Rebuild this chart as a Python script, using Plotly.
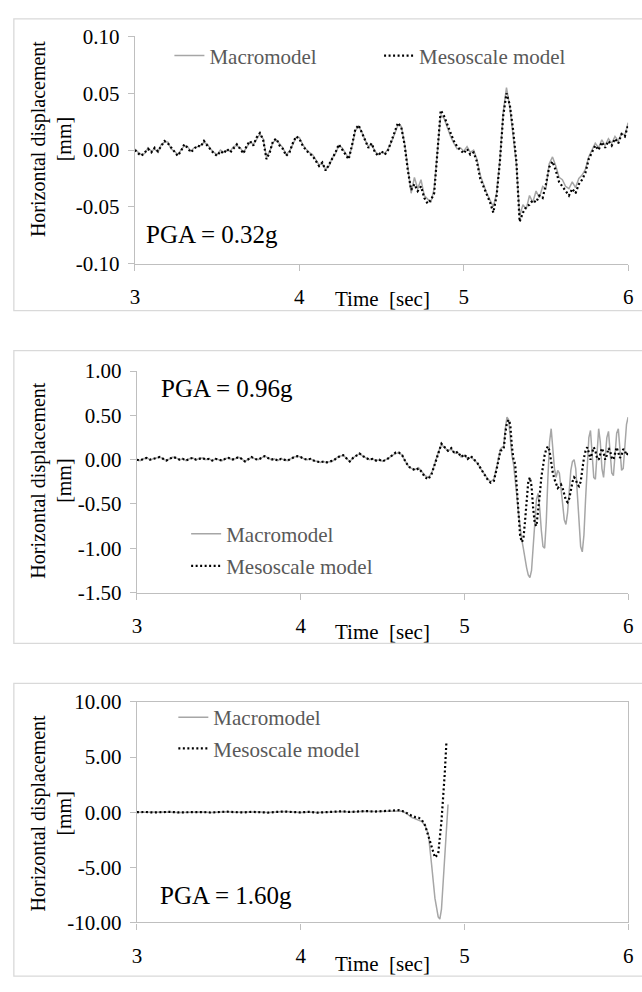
import plotly.graph_objects as go

# ---------------- data ----------------
T_START, T_STEP, N1 = 3.0, 0.02, 151
time_1 = [round(T_START + T_STEP * i, 2) for i in range(N1)]
# panel 2: 0.02 s sampling up to 5.18 s, then 0.01 s sampling
time_2 = [round(3.0 + 0.02 * i, 2) for i in range(110)] + [round(5.2 + 0.01 * i, 2) for i in range(81)]

macro_1 = [0.001, -0.002, -0.004, -0.003, 0.002, -0.001, 0.001, -0.002, 0.005, 0.007,
           0.007, 0.001, -0.001, -0.004, 0.000, 0.004, 0.003, -0.001, 0.002, 0.003,
           0.004, 0.007, 0.005, 0.001, -0.002, -0.004, 0.000, -0.002, 0.000, -0.001,
           0.003, 0.004, 0.002, -0.002, 0.003, 0.007, 0.005, 0.010, 0.014, 0.010,
           -0.006, -0.001, 0.007, 0.009, 0.005, 0.002, -0.004, -0.001, 0.005, 0.011,
           0.011, 0.005, 0.001, -0.002, -0.004, -0.009, -0.013, -0.012, -0.017, -0.014,
           -0.007, -0.003, 0.004, 0.002, -0.003, -0.007, 0.003, 0.017, 0.021, 0.016,
           0.009, 0.003, 0.005, -0.001, -0.004, -0.002, -0.003, 0.001, 0.007, 0.015,
           0.022, 0.021, 0.006, -0.015, -0.038, -0.024, -0.034, -0.026, -0.040, -0.043,
           -0.046, -0.034, 0.002, 0.031, 0.028, 0.020, 0.012, 0.006, 0.001, 0.002,
           -0.001, 0.003, -0.002, 0.000, -0.008, -0.022, -0.030, -0.038, -0.044, -0.050,
           -0.038, -0.008, 0.033, 0.055, 0.038, 0.015, -0.012, -0.058, -0.048, -0.052,
           -0.040, -0.046, -0.036, -0.042, -0.032, -0.034, -0.012, -0.006, -0.014, -0.024,
           -0.026, -0.032, -0.034, -0.028, -0.033, -0.025, -0.022, -0.017, -0.006, 0.000,
           0.006, 0.002, 0.009, 0.004, 0.010, 0.006, 0.012, 0.008, 0.015, 0.013, 0.024]

meso_1 = [0.000, -0.003, -0.005, -0.002, 0.001, -0.002, 0.002, -0.001, 0.004, 0.008,
          0.006, 0.002, -0.002, -0.005, -0.001, 0.005, 0.002, -0.002, 0.001, 0.004,
          0.003, 0.008, 0.004, 0.000, -0.003, -0.005, -0.001, -0.003, 0.001, -0.002,
          0.002, 0.005, 0.001, -0.003, 0.004, 0.008, 0.004, 0.011, 0.015, 0.009,
          -0.008, -0.002, 0.008, 0.010, 0.004, 0.001, -0.005, -0.002, 0.006, 0.012,
          0.010, 0.004, 0.000, -0.003, -0.005, -0.010, -0.014, -0.011, -0.018, -0.013,
          -0.008, -0.002, 0.005, 0.001, -0.004, -0.008, 0.004, 0.018, 0.022, 0.015,
          0.008, 0.002, 0.006, -0.002, -0.005, -0.001, -0.004, 0.000, 0.008, 0.016,
          0.024, 0.020, 0.005, -0.018, -0.035, -0.030, -0.036, -0.032, -0.042, -0.047,
          -0.044, -0.038, 0.000, 0.035, 0.030, 0.022, 0.015, 0.008, 0.003, 0.000,
          -0.003, 0.001, -0.004, -0.002, -0.010, -0.025, -0.032, -0.040, -0.046, -0.055,
          -0.040, -0.010, 0.030, 0.050, 0.040, 0.018, -0.010, -0.063, -0.055, -0.050,
          -0.048, -0.044, -0.046, -0.040, -0.042, -0.030, -0.015, -0.010, -0.018, -0.028,
          -0.032, -0.036, -0.040, -0.034, -0.038, -0.030, -0.026, -0.020, -0.008, -0.002,
          0.004, 0.000, 0.007, 0.002, 0.008, 0.004, 0.010, 0.006, 0.014, 0.012, 0.022]

macro_2 = [0.00, -0.01, 0.01, 0.02, 0.00, 0.01, 0.02, 0.03, 0.01, -0.01,
           0.01, 0.03, 0.02, 0.00, 0.01, -0.01, 0.01, 0.02, 0.00, 0.01,
           0.02, 0.00, 0.01, -0.01, 0.01, 0.00, -0.01, 0.01, 0.02, 0.00,
           0.01, 0.03, 0.01, -0.02, 0.01, 0.03, 0.01, 0.00, 0.02, 0.04,
           0.02, 0.00, 0.01, -0.01, 0.01, 0.00, -0.01, 0.01, 0.03, 0.04,
           0.03, 0.01, 0.00, 0.01, -0.01, -0.02, -0.03, -0.02, -0.03, -0.02,
           -0.01, 0.02, 0.04, 0.05, 0.01, -0.02, 0.02, 0.05, 0.07, 0.04,
           0.02, 0.00, 0.01, -0.01, 0.00, -0.02, 0.00, 0.02, 0.05, 0.07,
           0.08, 0.05, -0.02, -0.08, -0.10, -0.11, -0.09, -0.13, -0.18, -0.20,
           -0.15, -0.04, 0.08, 0.17, 0.13, 0.10, 0.12, 0.07, 0.08, 0.03,
           0.05, 0.01, 0.03, 0.00, -0.04, -0.10, -0.16, -0.21, -0.25, -0.22,
           # 5.20 .. 6.00 every 0.01 s
           -0.06, 0.04, 0.12, 0.14, 0.15, 0.35, 0.48, 0.45, 0.25, 0.05,
           -0.05, -0.20, -0.40, -0.60, -0.78, -0.90, -1.00, -1.12, -1.22, -1.30,
           -1.33, -1.25, -1.00, -0.70, -0.45, -0.38, -0.55, -0.80, -0.98, -1.00,
           -0.70, -0.20, 0.20, 0.35, 0.15, -0.10, -0.20, -0.12, -0.15, -0.30,
           -0.50, -0.68, -0.73, -0.60, -0.35, -0.12, -0.02, 0.00, -0.10, -0.40,
           -0.75, -0.98, -1.04, -0.85, -0.45, -0.05, 0.25, 0.33, 0.10, -0.20,
           -0.22, 0.10, 0.35, 0.20, -0.10, -0.20, 0.00, 0.25, 0.32, 0.10,
           -0.15, -0.18, 0.05, 0.30, 0.35, 0.12, -0.12, -0.10, 0.15, 0.40,
           0.48]

meso_2 = [0.00, -0.01, 0.01, 0.02, 0.00, 0.01, 0.02, 0.03, 0.01, -0.01,
          0.01, 0.03, 0.02, 0.00, 0.01, -0.01, 0.01, 0.02, 0.00, 0.01,
          0.02, 0.00, 0.01, -0.01, 0.01, 0.00, -0.01, 0.01, 0.02, 0.00,
          0.01, 0.03, 0.01, -0.02, 0.01, 0.03, 0.01, 0.00, 0.02, 0.04,
          0.02, 0.00, 0.01, -0.01, 0.01, 0.00, -0.01, 0.01, 0.03, 0.04,
          0.03, 0.01, 0.00, 0.01, -0.01, -0.02, -0.03, -0.02, -0.03, -0.02,
          -0.01, 0.02, 0.04, 0.05, 0.01, -0.02, 0.02, 0.05, 0.07, 0.04,
          0.02, 0.00, 0.01, -0.01, 0.00, -0.02, 0.00, 0.02, 0.05, 0.08,
          0.08, 0.05, -0.02, -0.08, -0.10, -0.12, -0.10, -0.14, -0.20, -0.22,
          -0.16, -0.05, 0.08, 0.18, 0.14, 0.10, 0.13, 0.07, 0.09, 0.03,
          0.06, 0.01, 0.04, 0.00, -0.04, -0.10, -0.16, -0.22, -0.26, -0.24,
          # 5.20 .. 6.00 every 0.01 s
          -0.08, 0.02, 0.10, 0.11, 0.12, 0.30, 0.42, 0.45, 0.40, 0.15,
          0.00, -0.05, -0.35, -0.65, -0.85, -0.93, -0.90, -0.70, -0.45, -0.25,
          -0.20, -0.30, -0.55, -0.72, -0.75, -0.60, -0.40, -0.20, -0.05, 0.05,
          0.12, 0.15, 0.10, -0.05, -0.15, -0.22, -0.28, -0.32, -0.30, -0.28,
          -0.32, -0.40, -0.46, -0.48, -0.44, -0.35, -0.25, -0.20, -0.22, -0.28,
          -0.30, -0.25, -0.10, 0.02, 0.10, 0.14, 0.08, 0.00, 0.08, 0.14,
          0.10, 0.02, 0.00, 0.08, 0.13, 0.08, 0.00, 0.05, 0.13, 0.10,
          0.02, 0.00, 0.08, 0.14, 0.08, 0.02, 0.05, 0.12, 0.10, 0.05,
          0.08]

time_3_macro = [3.00, 3.05, 3.10, 3.15, 3.20, 3.25, 3.30, 3.35, 3.40, 3.45,
                3.50, 3.55, 3.60, 3.65, 3.70, 3.75, 3.80, 3.85, 3.90, 3.95,
                4.00, 4.05, 4.10, 4.15, 4.20, 4.25, 4.30, 4.35, 4.40, 4.45,
                4.50, 4.55, 4.60, 4.62, 4.64, 4.66, 4.68, 4.70, 4.72, 4.74,
                4.76, 4.78, 4.80, 4.82, 4.84, 4.85, 4.86, 4.88, 4.89, 4.90]
macro_3 = [0.00, 0.01, -0.02, 0.01, 0.02, -0.02, 0.00, 0.03, 0.01, -0.02,
           0.02, 0.04, 0.00, -0.02, 0.02, 0.01, -0.03, 0.02, 0.05, 0.01,
           -0.02, 0.02, -0.04, 0.00, 0.03, 0.07, 0.02, 0.05, 0.09, 0.05,
           0.07, 0.10, 0.15, 0.10, -0.05, -0.30, -0.50, -0.60, -0.70, -0.85,
           -1.20, -2.00, -4.80, -7.80, -9.50, -9.70, -8.80, -4.00, -0.70, 0.70]

time_3_meso = [3.00, 3.05, 3.10, 3.15, 3.20, 3.25, 3.30, 3.35, 3.40, 3.45,
               3.50, 3.55, 3.60, 3.65, 3.70, 3.75, 3.80, 3.85, 3.90, 3.95,
               4.00, 4.05, 4.10, 4.15, 4.20, 4.25, 4.30, 4.35, 4.40, 4.45,
               4.50, 4.55, 4.60, 4.62, 4.64, 4.66, 4.68, 4.70, 4.72, 4.74,
               4.76, 4.78, 4.80, 4.82, 4.84, 4.86, 4.88, 4.89]
meso_3 = [0.00, 0.02, -0.03, 0.01, 0.03, -0.02, 0.00, 0.04, 0.01, -0.03,
          0.02, 0.05, 0.00, -0.02, 0.03, 0.01, -0.04, 0.02, 0.06, 0.01,
          -0.02, 0.03, -0.05, 0.00, 0.04, 0.08, 0.02, 0.06, 0.10, 0.05,
          0.08, 0.12, 0.18, 0.10, 0.00, -0.20, -0.35, -0.45, -0.50, -0.70,
          -1.20, -2.20, -3.30, -4.10, -3.80, -0.80, 3.50, 6.30]

pga_labels = ["PGA = 0.32g", "PGA = 0.96g", "PGA = 1.60g"]
series_names = ["Macromodel", "Mesoscale model"]
x_ticks = [3, 4, 5, 6]
x_ticktext = ["3", "4", "5", "6"]
y_ticks_1 = [0.10, 0.05, 0.00, -0.05, -0.10]
y_text_1 = ["0.10", "0.05", "0.00", "-0.05", "-0.10"]
y_ticks_2 = [1.00, 0.50, 0.00, -0.50, -1.00, -1.50]
y_text_2 = ["1.00", "0.50", "0.00", "-0.50", "-1.00", "-1.50"]
y_ticks_3 = [10.0, 5.0, 0.0, -5.0, -10.0]
y_text_3 = ["10.00", "5.00", "0.00", "-5.00", "-10.00"]
y_title = "Horizontal displacement<br>[mm]"
x_title = "Time  [sec]"

# ---------------- layout helpers ----------------
W, H = 642, 992
FONT = "Liberation Serif"
GRAY_LINE = "#a6a6a6"
AXIS_C = "#bfbfbf"
BOX_C = "#d9d9d9"
LEG_C = "#595959"


def px(x):
    return x / W


def py(y):
    return 1 - y / H


panels = [
    dict(top=25, bottom=258, left=132, right=633, btop=7, bbot=306),
    dict(top=368, bottom=595, left=134, right=633, btop=347, bbot=647),
    dict(top=707, bottom=933, left=134, right=633, btop=688, bbot=988),
]

fig = go.Figure()

data = [
    (time_1, macro_1, time_1, meso_1),
    (time_2, macro_2, time_2, meso_2),
    (time_3_macro, macro_3, time_3_meso, meso_3),
]

legend_pos = [
    [(167, 45), (380, 45)],
    [(184, 535), (184, 568)],
    [(171, 723), (171, 755)],
]

leg_idx = 0
layout_extra = {}
for i, (tm, ym, ts, ys) in enumerate(data):
    sfx = "" if i == 0 else str(i + 1)
    for j, (tt, yy) in enumerate([(tm, ym), (ts, ys)]):
        leg_idx += 1
        lname = "legend" if leg_idx == 1 else f"legend{leg_idx}"
        if j == 0:
            line = dict(color=GRAY_LINE, width=1.5)
        else:
            line = dict(color="#000000", width=2.2, dash="2px,2.5px")
        fig.add_trace(go.Scatter(x=tt, y=yy, mode="lines", name=series_names[j],
                                 line=line, xaxis="x" + sfx, yaxis="y" + sfx,
                                 legend=lname, hoverinfo="skip"))
        lx, ly = legend_pos[i][j]
        layout_extra[lname] = dict(x=px(lx), y=py(ly), xanchor="left", yanchor="middle",
                                   bgcolor="rgba(0,0,0,0)", borderwidth=0,
                                   font=dict(family=FONT, size=21, color=LEG_C),
                                   itemwidth=30, tracegroupgap=0)

yticks = [(y_ticks_1, y_text_1, [-0.10, 0.10]),
          (y_ticks_2, y_text_2, [-1.5, 1.0]),
          (y_ticks_3, y_text_3, [-10.0, 10.0])]

shapes = []
annotations = []
for i, p in enumerate(panels):
    sfx = "" if i == 0 else str(i + 1)
    mirror = True if i == 2 else False
    layout_extra["xaxis" + sfx] = dict(
        domain=[px(p["left"]), px(p["right"])], range=[3, 6], anchor="y" + sfx,
        tickvals=x_ticks, ticktext=x_ticktext, showgrid=False, zeroline=False,
        showline=True, linecolor=AXIS_C, linewidth=1.3, mirror=mirror,
        ticks="outside", ticklen=6, tickcolor=AXIS_C, tickwidth=1.3,
        tickfont=dict(family=FONT, size=21, color="#000000"),
        ticklabelstandoff=8,
    )
    tv, tt, rng = yticks[i]
    layout_extra["yaxis" + sfx] = dict(
        domain=[py(p["bottom"]), py(p["top"])], range=rng, anchor="x" + sfx,
        tickvals=tv, ticktext=tt, showgrid=False, zeroline=False,
        showline=True, linecolor=AXIS_C, linewidth=1.3, mirror=mirror,
        ticks="outside", ticklen=6, tickcolor=AXIS_C, tickwidth=1.3,
        tickfont=dict(family=FONT, size=21, color="#000000"),
        ticklabelstandoff=4,
    )
    shapes.append(dict(type="rect", xref="paper", yref="paper",
                       x0=px(9), x1=px(660), y0=py(p["bbot"]), y1=py(p["btop"]),
                       line=dict(color=BOX_C, width=1.3), fillcolor="rgba(0,0,0,0)",
                       layer="below"))
    annotations.append(dict(text=x_title, xref="paper", yref="paper",
                            x=px(383), y=py(p["bbot"] - 12), xanchor="center",
                            yanchor="middle", showarrow=False,
                            font=dict(family=FONT, size=21, color="#000000")))

y_title_centers = [130, 480, 821]
for yc in y_title_centers:
    annotations.append(dict(text=y_title, xref="paper", yref="paper",
                            x=px(47), y=py(yc), xanchor="center", yanchor="middle",
                            textangle=-90, showarrow=False,
                            font=dict(family=FONT, size=20, color="#000000")))

pga_pos = [(141, 228), (156, 386), (155, 905)]
for lab, (x, y) in zip(pga_labels, pga_pos):
    annotations.append(dict(text=lab, xref="paper", yref="paper",
                            x=px(x), y=py(y), xanchor="left", yanchor="middle",
                            showarrow=False,
                            font=dict(family=FONT, size=25, color="#000000")))

fig.update_layout(width=W, height=H, margin=dict(l=0, r=0, t=0, b=0),
                  paper_bgcolor="white", plot_bgcolor="white",
                  showlegend=True, shapes=shapes, annotations=annotations,
                  **layout_extra)

fig.write_html("out.html")
